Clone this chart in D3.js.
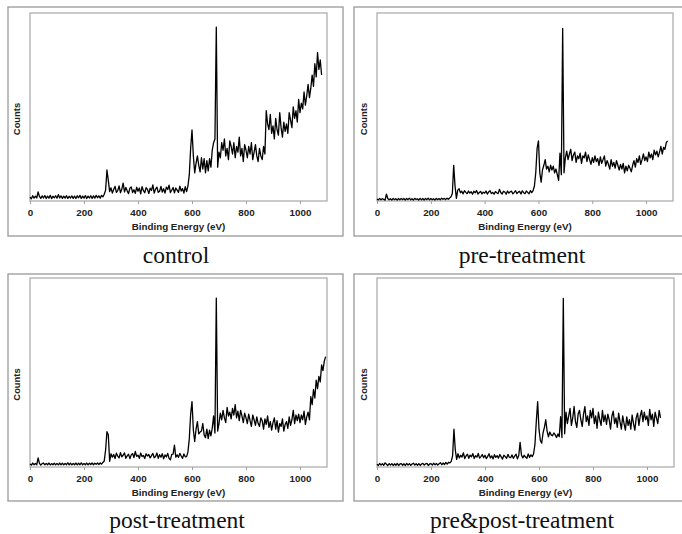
<!DOCTYPE html>
<html>
<head>
<meta charset="utf-8">
<script src="https://cdn.jsdelivr.net/npm/d3@7"></script>
<style>
  html, body { margin: 0; padding: 0; background: #fff; }
  svg { display: block; }
</style>
</head>
<body>
<svg id="chart" width="682" height="534"></svg>
<script>
// XPS survey spectra, intensities recorded every 5 eV starting at 0 eV
const sampleStep = 5;
const xTicks = [0, 200, 400, 600, 800, 1000];
const xAxisTitle = "Binding Energy (eV)";
const yAxisTitle = "Counts";
const panelTitles = ["control", "pre-treatment", "post-treatment", "pre&post-treatment"];

const controlCounts = [
  2,1.2,2.8,1.5,2.6,1.6,4.8,2.4,1.4,2.7,
  1.6,2.9,1.3,2.6,1.5,3,1.3,2.5,1.7,2.8,
  1.5,3.4,1.6,2.7,1.4,2.6,1.5,2.8,1.4,2.5,
  1.6,2.7,1.4,2.6,1.3,2.8,1.7,3,1.4,2.6,
  1.5,2.9,1.3,2.6,1.6,2.8,1.4,2.7,1.5,3,
  1.7,2.8,1.5,3,2.2,3.6,5.8,16.5,11,5,
  7,4.2,6.1,7.8,4.6,5.5,8,4.4,6.2,9.5,
  4.8,7.2,5.4,3.9,6.8,7.5,4.5,6,4.1,7.3,
  5.2,6.9,3.8,7.6,5.5,4.4,7.1,6.2,4,6.8,
  5.6,8.6,4.2,6.3,7.4,4.6,5.2,7.8,4.8,6.5,
  4.2,7.4,6.1,8.4,4.5,5.7,7.2,4.3,6.9,5.8,
  4.6,7.9,5.3,6.6,4.2,7.6,5,8,14,28,
  37.8,24,15,20,24,19,15.5,23,17,22.5,
  15,21.5,16,22.5,18,27,31,33,92.5,18,
  26,23,31,27,33,24,28,22,32,29,
  25,31,23,29,26,34,24,28,21,30,
  27,23,29,25,31,22,26,30,24,21,
  28,24,22,29,25,48,41,38,46,36,
  40,33,44,38,35,47,39,34,42,37,
  41,36,47,43,39,50,44,48,42,54,
  47,52,49,58,51,56,62,55,60,67,
  61,73,66,79,70,75,67
];

const preCounts = [
  1,0.6,1.4,0.6,1.2,0.9,0.5,3.7,1.3,0.6,
  1.2,0.5,1.4,0.7,1.2,0.5,1.3,0.6,1.4,0.7,
  1.3,0.5,1.3,0.7,1.5,0.6,1.2,0.5,1.4,0.8,
  1.2,0.5,1.4,0.6,1.3,0.5,1.4,0.7,1.5,0.6,
  1.3,0.6,1.2,0.5,1.4,0.7,1.3,0.6,1.5,0.9,
  1.4,0.7,1.5,0.9,1.6,2.2,4,19,8,1.4,
  5.8,6.5,4.4,5.2,3.8,5.5,4.6,3.9,5.3,4.2,
  4.9,3.6,5.2,4.4,5.6,3.7,4.5,5.1,3.8,4.7,
  4.2,5.3,3.7,4.8,5.5,4,4.6,3.6,5,4.4,
  3.9,6.2,4.5,3.7,5.1,4.8,3.6,5.3,4.2,4.9,
  5.2,3.8,4.6,5.5,3.9,4.7,5.1,3.7,5.4,4.4,
  3.9,5.3,4.6,3.8,5.5,4.4,5.5,8,15,28,
  32,15,10,16.5,19,22,17,18.5,15.5,19,
  16.5,18.5,15,17,14,11,25.5,14,91.8,15,
  23,26.5,22,25,27.5,21.5,24.5,26,20.5,24,
  22.5,25.5,20,24,23,26,21,24.5,22,19.5,
  23,20.5,24,21,22.5,19,23.5,20,22,24,
  18.5,21.5,19.5,17,22,18.5,20.5,17.5,21.5,19,
  16.5,19.5,17,20,15,18.5,16,19,17.5,15.5,
  19,21.5,18,22.5,20.5,24,19.5,22,25,21.5,
  23.5,21,26,23,25,22,27,24.5,26.5,23.5,
  26,29,25,28.5,27.5,31,32
];

const postCounts = [
  1.6,1,2.1,1.2,1.9,1.1,4.8,1.9,1,1.8,
  2.1,1.1,1.9,1.2,2.1,1.1,1.8,1.2,2,1.1,
  1.9,1.1,2.1,1.2,2,1.1,1.9,1.2,2.2,1.1,
  2,1.1,1.9,1.2,2.1,1.1,2,1.2,2.2,1.1,
  1.9,1.2,2.1,1.1,2,1.3,2.1,1.2,2,1.4,
  2.1,1.3,2.2,1.5,2.4,3.2,9,18.7,17,3,
  7,5.2,6.6,4.5,7.3,5.8,4.8,7.6,5.4,6.2,
  7.5,4.6,5.9,6.8,4.4,6.4,7.1,5,8.2,5.6,
  6.3,4.6,7.4,5.5,6.1,4.5,7,5.8,6.6,4.8,
  6,7.2,4.9,5.6,7.4,4.6,6.5,5.2,7,4.3,
  6.4,5.3,7.2,4.6,3.8,6.7,6.8,11.6,5.2,6.4,
  5.1,7.2,5.8,4.6,6.9,5.4,5.5,8,15,28,
  34.6,19.6,13.5,20,24,17.5,18.5,19,23,17,
  15.5,20,15,19.5,16.5,20.6,27,18,89.4,19,
  23,28.5,25,30,26,23.5,31.5,27,29,25.5,
  31,27.5,33,26,29.5,24.5,30,27,23.5,28.5,
  26,23,28,24.5,21.5,27.5,25,22,26.5,23,
  21.5,26,24.5,20,25.5,22.5,27,21,24,19.5,
  23.5,26,20,24.5,18.5,23,21.5,25.5,19,22.5,
  24,20.5,26.5,22,25,30,23,27.5,24.5,28,
  23.5,27.5,25,29.5,22.5,26.5,29,25,37.2,33,
  41,36.5,46,41.5,48,45,54,51,56,58.4
];

const prePostCounts = [
  1.4,0.8,1.9,1,1.7,0.9,2.2,1.5,0.8,1.8,
  1,1.8,0.8,1.7,0.9,1.9,0.8,1.6,1.8,0.9,
  1.7,0.8,1.9,1,1.8,0.9,1.6,2,1,1.7,
  0.9,1.8,0.8,1.6,1.9,1,1.7,1.9,0.8,1.6,
  1.8,1,2,1.1,1.9,1,1.7,2.3,1.2,2.1,
  1.3,2.4,1.5,2.5,2.2,3,6,20,9,4,
  7,4.8,6.2,5.3,7.5,4.5,5.9,6.8,4.6,6.3,
  5.4,7.1,4.5,6,5.2,7.2,4.7,5.5,6.6,4.9,
  6.2,4.4,5.6,7,4.8,5.9,4.3,6.5,5.1,6,
  4.7,6.6,5.4,4.2,6.3,5.5,4.6,6.7,5.2,4.9,
  6.4,4.6,5.8,6.8,4.3,6.1,13,6.4,4.8,6.2,
  5.3,4.6,6.9,5.1,6.4,5.5,7,12,24,34.6,
  20,14,12.6,18,21,25,19,16,18.5,17,
  16.5,18,17,15.6,17.5,16,26.6,15.6,89.2,17.6,
  29,23,27,31,22,26,32,24,21,28,
  30,25,21.5,28,32,24,27,22,30,26,
  31,23,27,20.5,29,25,22,30,24,27.5,
  22.5,28,25,20,27,29.5,23,26,21,28.5,
  24,20,27,23,19.5,26.5,22,25,20,27.5,
  23,19.5,26,28.5,22,27,30,24,29,25,
  27,22,30.5,25,28,21.5,29,26,23,30,
  26
];

const seriesList = [controlCounts, preCounts, postCounts, prePostCounts];

// Page layout: frame box, plot area and caption position for each panel
const layout = [
  { box: [8, 7, 335, 229],     plot: { l: 30,  r: 327, t: 13,  b: 201 }, capX: 176, capY: 263 },
  { box: [354, 7, 340, 229],   plot: { l: 377, r: 673, t: 13,  b: 201 }, capX: 522, capY: 263 },
  { box: [8, 274, 335, 227],   plot: { l: 30,  r: 327, t: 278, b: 467 }, capX: 177, capY: 528 },
  { box: [354, 274, 340, 227], plot: { l: 377, r: 674, t: 278, b: 467 }, capX: 522, capY: 528 }
];

const svg = d3.select("#chart");
const sans = "'Liberation Sans', Arial, sans-serif";
const serif = "'Liberation Serif', 'Times New Roman', serif";

layout.forEach((L, i) => {
  const g = svg.append("g");
  const P = L.plot;

  // outer panel frame
  g.append("rect")
    .attr("x", L.box[0]).attr("y", L.box[1])
    .attr("width", L.box[2]).attr("height", L.box[3])
    .attr("fill", "none").attr("stroke", "#a0a0a0").attr("stroke-width", 1.4);

  const x = d3.scaleLinear().domain([0, 1100]).range([P.l, P.r]);
  const y = d3.scaleLinear().domain([0, 100]).range([P.b, P.t]);

  // plot area border
  g.append("rect")
    .attr("x", P.l).attr("y", P.t)
    .attr("width", P.r - P.l).attr("height", P.b - P.t)
    .attr("fill", "none").attr("stroke", "#b4b4b4").attr("stroke-width", 1.4);

  // x axis
  const ax = g.append("g")
    .attr("transform", `translate(0,${P.b})`)
    .call(d3.axisBottom(x).tickValues(xTicks).tickSize(3).tickPadding(5).tickFormat(d3.format("d")));
  ax.select(".domain").remove();
  ax.selectAll(".tick line").attr("stroke", "#a0a0a0");
  ax.selectAll(".tick text")
    .attr("font-family", sans).attr("font-weight", "bold")
    .attr("font-size", 9.8).attr("fill", "#222");

  // spectrum
  const pts = seriesList[i].map((v, k) => ({ e: k * sampleStep, v }));
  const line = d3.line().x(d => x(d.e)).y(d => y(d.v));
  g.append("path")
    .datum(pts)
    .attr("d", line)
    .attr("fill", "none")
    .attr("stroke", "#000")
    .attr("stroke-width", 1.3)
    .attr("stroke-linejoin", "round");

  // axis titles
  g.append("text")
    .attr("x", (P.l + P.r) / 2).attr("y", P.b + 29)
    .attr("text-anchor", "middle")
    .attr("font-family", sans).attr("font-weight", "bold")
    .attr("font-size", 9.8).attr("fill", "#222")
    .text(xAxisTitle);

  g.append("text")
    .attr("transform", `translate(${P.l - 10},${(P.t + P.b) / 2 + 12}) rotate(-90)`)
    .attr("text-anchor", "middle")
    .attr("font-family", sans).attr("font-weight", "bold")
    .attr("font-size", 9.4).attr("fill", "#222")
    .text(yAxisTitle);

  // caption under the panel
  svg.append("text")
    .attr("x", L.capX).attr("y", L.capY)
    .attr("text-anchor", "middle")
    .attr("font-family", serif)
    .attr("font-size", 23.5).attr("fill", "#111")
    .text(panelTitles[i]);
});
</script>
</body>
</html>
